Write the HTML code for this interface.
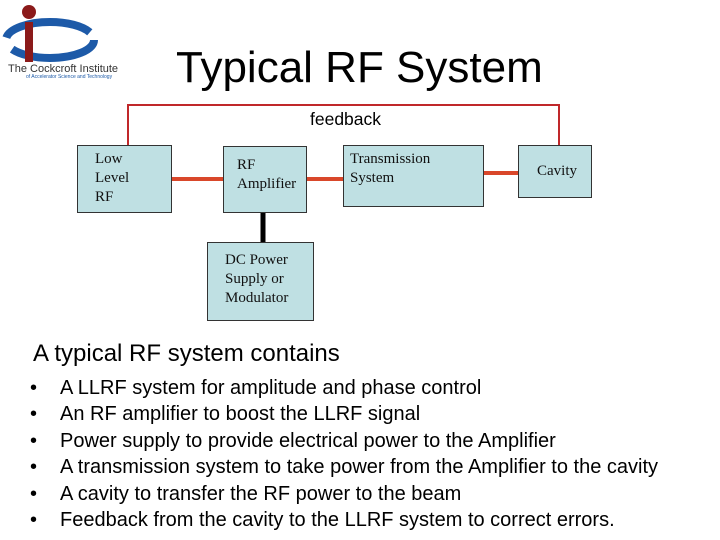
<!DOCTYPE html>
<html><head><style>
body{margin:0;width:720px;height:540px;background:#fff;position:relative;overflow:hidden;font-family:"Liberation Sans",sans-serif}
.b{position:absolute;background:#bfe0e3;border:1px solid #333;box-sizing:border-box;font-family:"Liberation Serif",serif;font-size:15px;line-height:19px;color:#111}
.t{position:absolute;white-space:nowrap}
ul{position:absolute;left:30px;top:375px;margin:0;padding:0;list-style:none;font-size:20px;line-height:26.4px}
li{position:relative;padding-left:30px;white-space:nowrap}
li:before{content:"•";position:absolute;left:0}
</style></head><body>
<svg width="720" height="540" style="position:absolute;left:0;top:0">
<ellipse cx="50" cy="40" rx="44" ry="18" fill="none" stroke="#1d5aa8" stroke-width="8" stroke-dasharray="90 14"/>
<circle cx="29" cy="12" r="7" fill="#8b1a1a"/>
<rect x="25" y="22" width="8" height="40" fill="#8b1a1a"/>
<polyline points="128,145 128,105 559,105 559,145" fill="none" stroke="#c0282a" stroke-width="2"/>
<line x1="172" y1="179" x2="223" y2="179" stroke="#d9472a" stroke-width="4"/>
<line x1="307" y1="179" x2="347" y2="179" stroke="#d9472a" stroke-width="4"/>
<line x1="484" y1="173" x2="518" y2="173" stroke="#d9472a" stroke-width="4"/>
<line x1="263" y1="213" x2="263" y2="242" stroke="#000" stroke-width="5"/>
</svg>
<div class="t" style="left:8px;top:63px;font-size:11px;color:#333">The Cockcroft Institute</div>
<div class="t" style="left:26px;top:74px;font-size:5px;color:#1d5aa8">of Accelerator Science and Technology</div>
<div class="t" style="left:176px;top:43px;font-size:44px">Typical RF System</div>
<div class="t" style="left:310px;top:109px;font-size:17.5px">feedback</div>
<div class="b" style="left:77px;top:145px;width:95px;height:68px;padding:4px 0 0 17px">Low<br>Level<br>RF</div>
<div class="b" style="left:223px;top:146px;width:84px;height:67px;padding:9px 0 0 13px">RF<br>Amplifier</div>
<div class="b" style="left:343px;top:145px;width:141px;height:62px;padding:4px 0 0 6px">Transmission<br>System</div>
<div class="b" style="left:518px;top:145px;width:74px;height:53px;padding:16px 0 0 18px">Cavity</div>
<div class="b" style="left:207px;top:242px;width:107px;height:79px;padding:8px 0 0 17px">DC Power<br>Supply or<br>Modulator</div>
<div class="t" style="left:33px;top:340px;font-size:24px">A typical RF system contains</div>
<ul>
<li>A LLRF system for amplitude and phase control</li>
<li>An RF amplifier to boost the LLRF signal</li>
<li>Power supply to provide electrical power to the Amplifier</li>
<li>A transmission system to take power from the Amplifier to the cavity</li>
<li>A cavity to transfer the RF power to the beam</li>
<li>Feedback from the cavity to the LLRF system to correct errors.</li>
</ul>
</body></html>
